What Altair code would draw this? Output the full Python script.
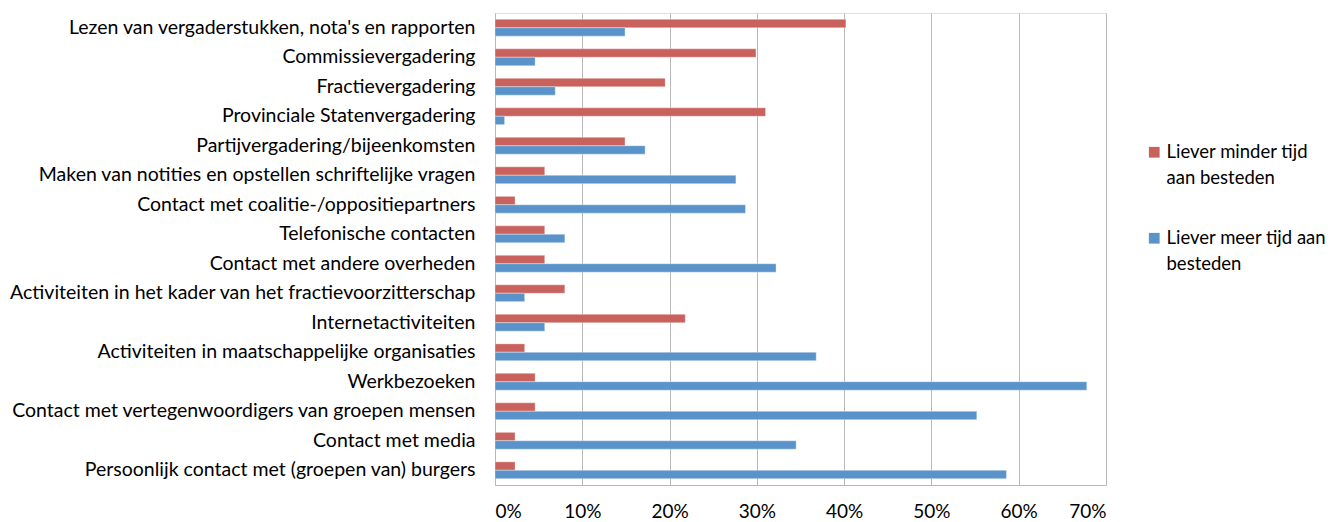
import altair as alt
import pandas as pd

categories = [
    "Lezen van vergaderstukken, nota's en rapporten",
    "Commissievergadering",
    "Fractievergadering",
    "Provinciale Statenvergadering",
    "Partijvergadering/bijeenkomsten",
    "Maken van notities en opstellen schriftelijke vragen",
    "Contact met coalitie-/oppositiepartners",
    "Telefonische contacten",
    "Contact met andere overheden",
    "Activiteiten in het kader van het fractievoorzitterschap",
    "Internetactiviteiten",
    "Activiteiten in maatschappelijke organisaties",
    "Werkbezoeken",
    "Contact met vertegenwoordigers van groepen mensen",
    "Contact met media",
    "Persoonlijk contact met (groepen van) burgers",
]
minder = [40.2, 29.9, 19.5, 31.0, 14.9, 5.7, 2.3, 5.7, 5.7, 8.0, 21.8, 3.4, 4.6, 4.6, 2.3, 2.3]
meer = [14.9, 4.6, 6.9, 1.1, 17.2, 27.6, 28.7, 8.0, 32.2, 3.4, 5.7, 36.8, 67.8, 55.2, 34.5, 58.6]
series = ["Liever minder tijd\naan besteden", "Liever meer tijd aan\nbesteden"]
colors = ["#C9625D", "#5A93C9"]
x_ticks = [0, 0.1, 0.2, 0.3, 0.4, 0.5, 0.6, 0.7]

rows = []
for c, a, b in zip(categories, minder, meer):
    rows.append({"category": c, "series": series[0], "value": a / 100})
    rows.append({"category": c, "series": series[1], "value": b / 100})
df = pd.DataFrame(rows)

FONT = "Lato"
FS = 19.5

chart = alt.Chart(df).mark_bar(strokeWidth=1, strokeOpacity=0.35, stroke="white").encode(
    x=alt.X(
        "value:Q",
        scale=alt.Scale(domain=[0, 0.7], nice=False),
        axis=alt.Axis(
            values=x_ticks, format=".0%", title=None, grid=True, gridColor="#B8B8B8",
            domainColor="#B8B8B8", ticks=False, labelPadding=17, labelFontSize=19,
            labelColor="black", labelFont=FONT,
        ),
    ),
    y=alt.Y(
        "category:N",
        sort=categories,
        scale=alt.Scale(paddingInner=0.43, paddingOuter=0.215),
        axis=alt.Axis(
            title=None, ticks=False, domainColor="#B8B8B8", labelPadding=20,
            labelLimit=0, labelFontSize=FS, labelColor="black", labelFont=FONT,
        ),
    ),
    yOffset=alt.YOffset("series:N", sort=series, scale=alt.Scale(domain=series)),
    color=alt.Color(
        "series:N",
        scale=alt.Scale(domain=series, range=colors),
        legend=alt.Legend(
            title=None, orient="none", legendX=650, legendY=130,
            symbolType="square", symbolSize=115, symbolStrokeWidth=0,
            labelFontSize=18.5, labelFont=FONT, labelColor="black", labelLimit=0,
            labelExpr="split(datum.label, '\\n')", rowPadding=41, labelOffset=3,
        ),
    ),
).properties(
    width=611,
    height=472,
    autosize=alt.AutoSizeParams(type="none"),
    padding={"left": 487, "top": 5, "right": 225, "bottom": 37},
).configure_view(stroke=None).configure(style={"guide-label": {"lineHeight": 26}})

chart.save("out.html", embed_options={"renderer": "svg", "actions": False})
